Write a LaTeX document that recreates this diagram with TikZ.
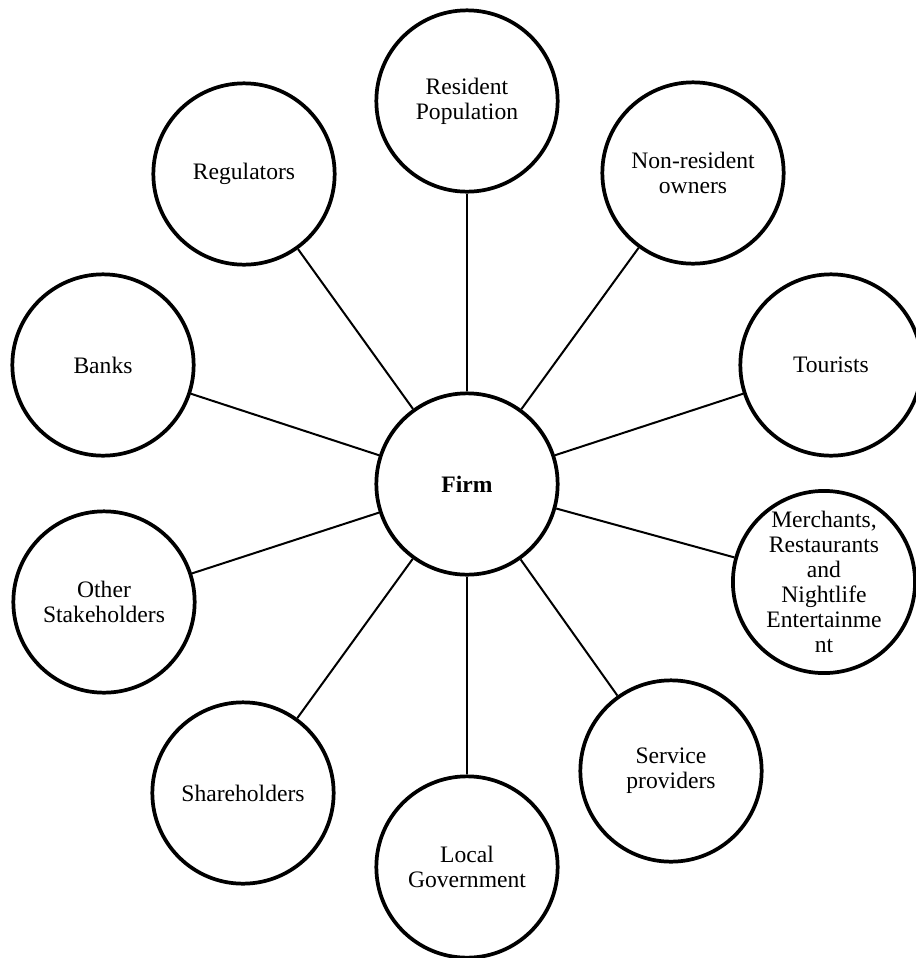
\documentclass[tikz,border=0pt]{standalone}
\usepackage{fontspec}
\setmainfont{Liberation Serif}
\begin{document}
\begin{tikzpicture}[x=0.75pt,y=-0.75pt,
  party/.style={circle,draw,line width=2.8pt,minimum size=136pt,inner sep=0pt,
    align=center,font=\fontsize{17.7}{18.75}\selectfont},
  tie/.style={line width=1.5pt}]
\useasboundingbox (0,0) rectangle (916,958);
% central firm
\node[party] (firm) at (467,484) {\textbf{Firm}};
% stakeholders around it
\node[party] (resident)  at (467,101) {Resident\\Population};
\node[party] (nonres)    at (693,173) {Non-resident\\owners};
\node[party] (tourists)  at (831,365) {Tourists};
\node[party] (merchants) at (824,582) {Merchants,\\Restaurants\\and\\Nightlife\\Entertainme\\nt};
\node[party] (service)   at (671,771) {Service\\providers};
\node[party] (localgov)  at (467,867) {Local\\Government};
\node[party] (share)     at (243,793) {Shareholders};
\node[party] (other)     at (104,602) {Other\\Stakeholders};
\node[party] (banks)     at (103,365) {Banks};
\node[party] (regul)     at (244,174) {Regulators};
% spokes
\foreach \n in {resident,nonres,tourists,merchants,service,localgov,share,other,banks,regul}
  \draw[tie] (firm) -- (\n);
\end{tikzpicture}
\end{document}
